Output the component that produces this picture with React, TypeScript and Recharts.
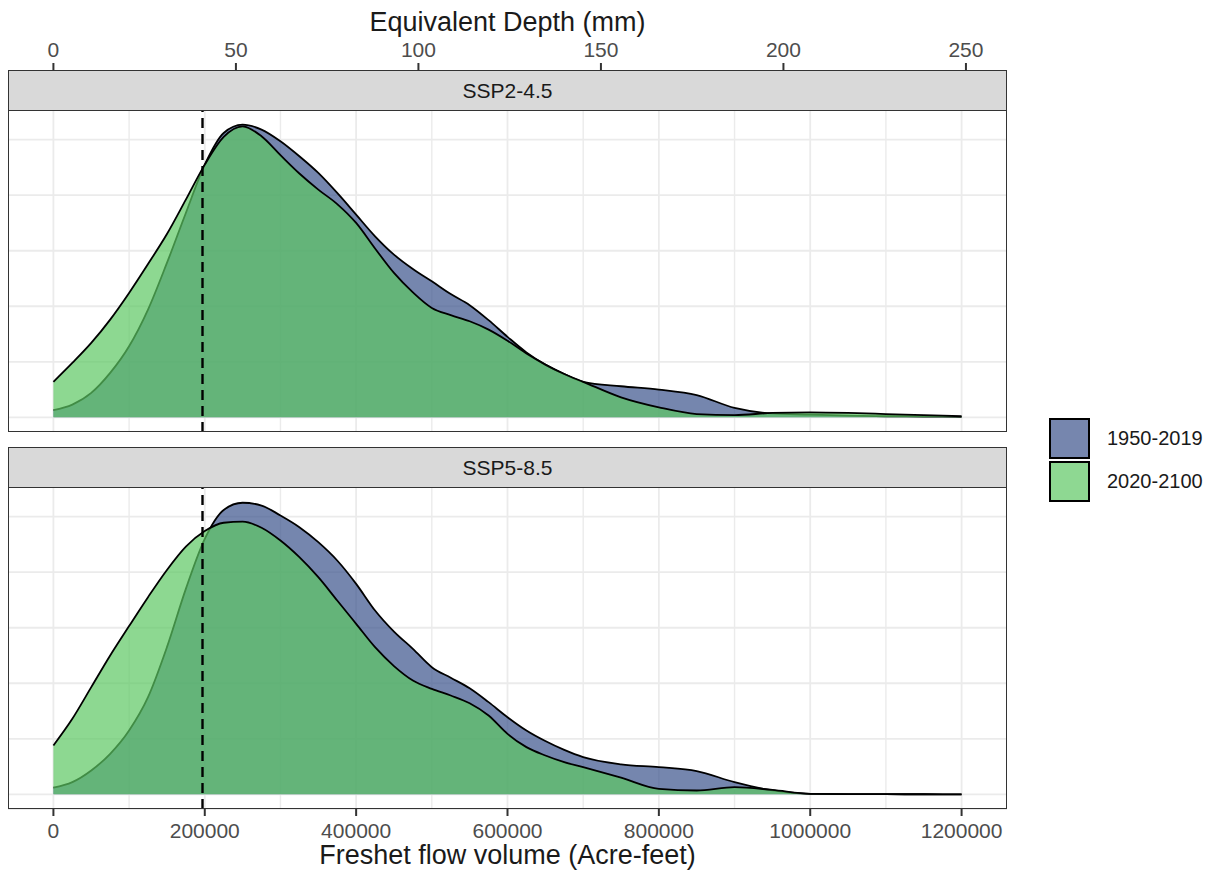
import React from "react";
import {
  AreaChart,
  Area,
  XAxis,
  YAxis,
  CartesianGrid,
  ReferenceLine,
} from "recharts";

// freshet flow volume (acre-feet) where the densities were read
const flowVolume = [
  0, 25000, 50000, 75000, 100000, 125000, 150000, 175000, 200000, 225000,
  250000, 275000, 300000, 325000, 350000, 375000, 400000, 425000, 450000,
  475000, 500000, 525000, 550000, 575000, 600000, 625000, 650000, 675000,
  700000, 750000, 800000, 850000, 900000, 950000, 1000000, 1050000, 1100000,
  1150000, 1200000,
];

// density (scaled units) - SSP2-4.5 panel
const ssp245Hist = [
  0.13, 0.23, 0.44, 0.8, 1.28, 1.94, 2.78, 3.68, 4.55, 5.12, 5.27, 5.18, 4.97,
  4.7, 4.4, 4.04, 3.65, 3.26, 2.93, 2.67, 2.45, 2.22, 2.02, 1.75, 1.45, 1.17,
  0.95, 0.78, 0.64, 0.56, 0.5, 0.4, 0.17, 0.07, 0.05, 0.03, 0.02, 0.015, 0.01,
];
const ssp245Fut = [
  0.64, 0.98, 1.34, 1.76, 2.24, 2.76, 3.3, 3.92, 4.55, 5.05, 5.24, 5.06, 4.72,
  4.39, 4.1, 3.84, 3.5, 3.04, 2.6, 2.25, 1.97, 1.84, 1.73, 1.58, 1.38, 1.15,
  0.95, 0.78, 0.64, 0.36, 0.18, 0.06, 0.04, 0.08, 0.09, 0.08, 0.06, 0.04, 0.02,
];

// density (scaled units) - SSP5-8.5 panel
const ssp585Hist = [
  0.12, 0.22, 0.43, 0.73, 1.15, 1.75, 2.65, 3.7, 4.6, 5.12, 5.25, 5.2, 5.02,
  4.81, 4.54, 4.21, 3.79, 3.31, 2.93, 2.62, 2.29, 2.1, 1.91, 1.66, 1.39, 1.15,
  0.96, 0.8, 0.67, 0.54, 0.49, 0.42, 0.22, 0.07, 0.01, 0.005, 0.003, 0.002,
  0.001,
];
const ssp585Fut = [
  0.88, 1.36, 1.93, 2.5, 3.03, 3.55, 4.04, 4.46, 4.74, 4.89, 4.91, 4.8, 4.57,
  4.27, 3.91, 3.49, 3.07, 2.65, 2.31, 2.05, 1.9, 1.78, 1.64, 1.42, 1.09, 0.85,
  0.7, 0.58, 0.49, 0.3, 0.1, 0.07, 0.13, 0.08, 0.01, 0.005, 0.003, 0.002,
  0.001,
];

const scenarios = ["SSP2-4.5", "SSP5-8.5"];
const periods = ["1950-2019", "2020-2100"];
const periodColors = ["#3B528B", "#5DC863"];

const flowTicks = [0, 200000, 400000, 600000, 800000, 1000000, 1200000];
const flowMinorTicks = [100000, 300000, 500000, 700000, 900000, 1100000];
const depthTicks = [0, 50, 100, 150, 200, 250];
const densityTicks = [0, 1, 2, 3, 4, 5];

const thresholdFlow = 197000;
const acreFeetPerMm = 4823;

const FONT = '"Liberation Sans", Arial, Helvetica, sans-serif';

// ggplot-style 5% expansion
const flowMin = Math.min(...flowVolume);
const flowMax = Math.max(...flowVolume);
const flowPad = (flowMax - flowMin) * 0.05;
const xDomain = [flowMin - flowPad, flowMax + flowPad];
const yMax = Math.max(...ssp245Hist, ...ssp245Fut, ...ssp585Hist, ...ssp585Fut);
const yDomain = [-0.05 * yMax, 1.05 * yMax];

const LEFT = 8;
const WIDTH = 999;
const PLOT_H = 322;

const tickStyle = { fill: "#4D4D4D", fontSize: 21, fontFamily: FONT };
const tickLineStyle = { stroke: "#333333", strokeWidth: 2 };

function Panel({
  label,
  hist,
  fut,
  top,
  showAxis,
}: {
  label: string;
  hist: number[];
  fut: number[];
  top: number;
  showAxis: boolean;
}) {
  const data = flowVolume.map((x, i) => ({ x, hist: hist[i], fut: fut[i] }));
  const axisH = showAxis ? 63 : 0;
  return (
    <>
      <div
        style={{
          position: "absolute",
          left: LEFT,
          top,
          width: WIDTH,
          height: 41,
          boxSizing: "border-box",
          border: "1.5px solid #333333",
          background: "#D9D9D9",
          display: "flex",
          alignItems: "center",
          justifyContent: "center",
          fontSize: 21,
          color: "#1A1A1A",
        }}
      >
        {label}
      </div>
      <div style={{ position: "absolute", left: LEFT, top: top + 40 }}>
        <AreaChart
          width={WIDTH}
          height={PLOT_H + axisH}
          data={data}
          margin={{ top: 0, right: 0, bottom: 0, left: 0 }}
          style={{ background: "#FFFFFF" }}
        >
          <XAxis
            xAxisId="maj"
            dataKey="x"
            type="number"
            domain={xDomain}
            ticks={flowTicks}
            interval={0}
            hide={!showAxis}
            height={axisH}
            axisLine={false}
            tickSize={7}
            tickMargin={7}
            tickLine={tickLineStyle}
            tick={tickStyle}
          />
          <XAxis
            xAxisId="min"
            dataKey="x"
            type="number"
            domain={xDomain}
            ticks={flowMinorTicks}
            hide
          />
          <YAxis yAxisId="maj" type="number" domain={yDomain} ticks={densityTicks} hide />
          <CartesianGrid
            xAxisId="min"
            yAxisId="maj"
            horizontal={false}
            stroke="#EBEBEB"
            strokeWidth={1.4}
          />
          <CartesianGrid xAxisId="maj" yAxisId="maj" stroke="#EBEBEB" strokeWidth={1.8} />
          <Area
            xAxisId="maj"
            yAxisId="maj"
            type="monotone"
            dataKey="hist"
            baseValue={0}
            fill={periodColors[0]}
            fillOpacity={0.7}
            stroke="#000000"
            strokeWidth={1.8}
            isAnimationActive={false}
          />
          <Area
            xAxisId="maj"
            yAxisId="maj"
            type="monotone"
            dataKey="fut"
            baseValue={0}
            fill={periodColors[1]}
            fillOpacity={0.7}
            stroke="#000000"
            strokeWidth={1.8}
            isAnimationActive={false}
          />
          <ReferenceLine
            xAxisId="maj"
            yAxisId="maj"
            x={thresholdFlow}
            stroke="#000000"
            strokeWidth={2.4}
            strokeDasharray="10 6"
          />
        </AreaChart>
      </div>
      <div
        style={{
          position: "absolute",
          left: LEFT,
          top: top + 40,
          width: WIDTH,
          height: PLOT_H,
          boxSizing: "border-box",
          border: "1.5px solid #333333",
          pointerEvents: "none",
        }}
      />
    </>
  );
}

export default function App() {
  const depthData = depthTicks.map((mm) => ({ mm }));
  return (
    <div
      style={{
        position: "absolute",
        left: 0,
        top: 0,
        width: 1215,
        height: 871,
        background: "#FFFFFF",
        fontFamily: FONT,
      }}
    >
      {/* secondary axis on top */}
      <div
        style={{
          position: "absolute",
          left: 0,
          top: 9,
          width: 1015,
          textAlign: "center",
          fontSize: 27,
          lineHeight: "27px",
          color: "#1A1A1A",
        }}
      >
        Equivalent Depth (mm)
      </div>
      <div style={{ position: "absolute", left: LEFT, top: 0 }}>
        <AreaChart
          width={WIDTH}
          height={110}
          data={depthData}
          margin={{ top: 0, right: 0, bottom: 0, left: 0 }}
        >
          <XAxis
            dataKey="mm"
            type="number"
            orientation="top"
            domain={[xDomain[0] / acreFeetPerMm, xDomain[1] / acreFeetPerMm]}
            ticks={depthTicks}
            interval={0}
            height={70}
            axisLine={false}
            tickSize={7}
            tickMargin={6}
            tickLine={tickLineStyle}
            tick={tickStyle}
          />
          <YAxis hide />
        </AreaChart>
      </div>

      <Panel label={scenarios[0]} hist={ssp245Hist} fut={ssp245Fut} top={70} showAxis={false} />
      <Panel label={scenarios[1]} hist={ssp585Hist} fut={ssp585Fut} top={447} showAxis />

      <div
        style={{
          position: "absolute",
          left: 0,
          top: 842,
          width: 1015,
          textAlign: "center",
          fontSize: 27,
          lineHeight: "27px",
          color: "#1A1A1A",
        }}
      >
        Freshet flow volume (Acre-feet)
      </div>

      {/* legend */}
      {periods.map((p, i) => (
        <div
          key={p}
          style={{
            position: "absolute",
            left: 1049,
            top: 418 + i * 43,
            height: 41,
            display: "flex",
            alignItems: "center",
          }}
        >
          <div
            style={{
              width: 41,
              height: 41,
              boxSizing: "border-box",
              border: "2px solid #000000",
              background: periodColors[i],
              position: "relative",
            }}
          >
            <div
              style={{
                position: "absolute",
                inset: 0,
                background: "#FFFFFF",
                opacity: 0.3,
              }}
            />
          </div>
          <span style={{ marginLeft: 17, fontSize: 20, color: "#1A1A1A" }}>{p}</span>
        </div>
      ))}
    </div>
  );
}
